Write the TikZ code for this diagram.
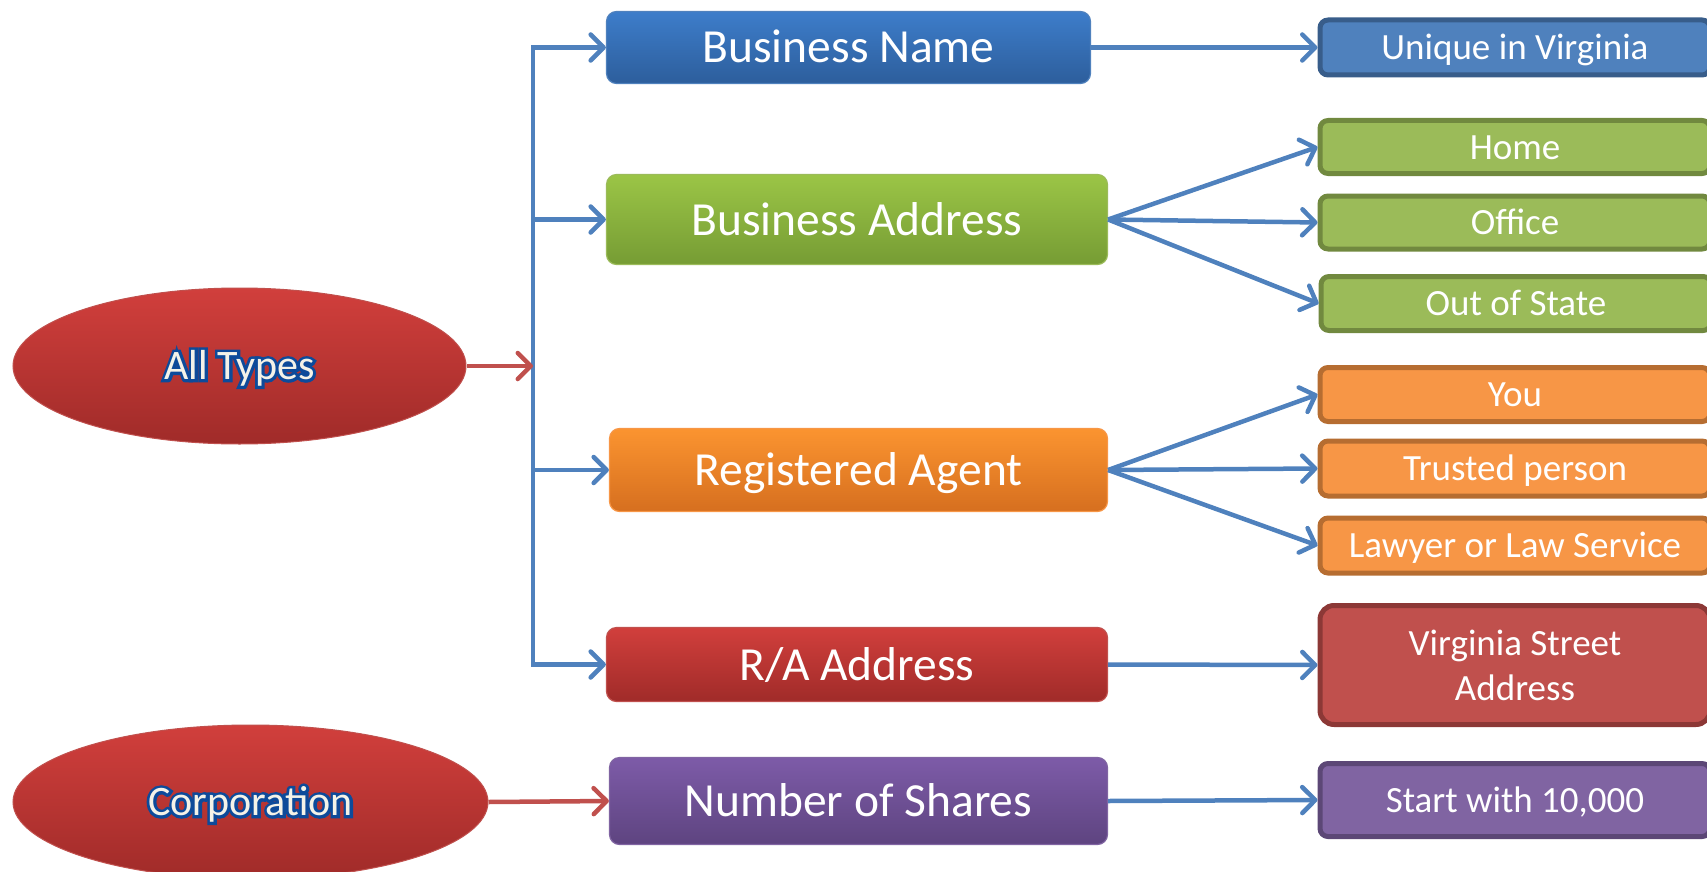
\documentclass[tikz,border=0pt]{standalone}
\usepackage{fontspec}
\setmainfont{Carlito}
\newfontfamily\fatfont[FakeBold=14]{Carlito}
\usetikzlibrary{arrows.meta,shapes.geometric}
\definecolor{arrblue}{HTML}{4F81BD}
\definecolor{arrred}{HTML}{C0504D}
\definecolor{outl}{HTML}{0D4A9A}
\definecolor{ivory}{HTML}{F4F2E8}
\definecolor{blueT}{HTML}{3D7DCA}\definecolor{blueB}{HTML}{2D5E9C}\definecolor{blueD}{HTML}{4F81BD}
\definecolor{greenT}{HTML}{9BC546}\definecolor{greenB}{HTML}{769C34}\definecolor{greenD}{HTML}{9BBB59}
\definecolor{orangeT}{HTML}{FB9430}\definecolor{orangeB}{HTML}{D66F1F}\definecolor{orangeD}{HTML}{F79646}
\definecolor{redT}{HTML}{D13F3C}\definecolor{redB}{HTML}{A02B29}\definecolor{redD}{HTML}{C0504D}
\definecolor{purpT}{HTML}{7D5BA8}\definecolor{purpB}{HTML}{5E4480}\definecolor{purpD}{HTML}{8064A2}
\definecolor{blueF}{HTML}{4F81BD}\definecolor{blueE}{HTML}{385D8A}
\definecolor{greenF}{HTML}{9BBB59}\definecolor{greenE}{HTML}{71893F}
\definecolor{orangeF}{HTML}{F79646}\definecolor{orangeE}{HTML}{B66D31}
\definecolor{redF}{HTML}{C0504D}\definecolor{redE}{HTML}{8C3836}
\definecolor{purpF}{HTML}{8064A2}\definecolor{purpE}{HTML}{5C4776}
\newcommand\outlinedtext[1]{\rlap{\fatfont\color{outl}#1}\color{ivory}#1}
\begin{document}
\begin{tikzpicture}[x=1pt,y=-1pt,
  lbox/.style={rectangle, rounded corners=10pt, line width=1.2pt, text=white, inner sep=0pt,
    font=\fontsize{47.5}{57}\selectfont, text height=38pt, text depth=7pt},
  rbox/.style={rectangle, rounded corners=8pt, line width=5pt, text=white, inner sep=0pt,
    minimum width=390pt, align=center, font=\fontsize{37}{45}\selectfont},
  rtxt/.style={text height=30pt, text depth=6pt},
  oval/.style={ellipse, inner sep=0pt, draw=redD, line width=1pt, top color=redT, bottom color=redB,
    font=\fontsize{42}{50}\selectfont, text height=33pt, text depth=6pt},
  conn/.style={draw=arrblue, line width=4.5pt, line join=miter,
    -{Straight Barb[length=13pt,width=26pt,line cap=round,line join=round]}},
  redconn/.style={conn, draw=arrred}
]
\useasboundingbox (0,0) rectangle (1707,872);

% ellipses
\node[oval, minimum width=453pt, minimum height=156pt] (alltypes) at (239.5,366) {\outlinedtext{All Types}};
\node[oval, minimum width=475pt, minimum height=154pt] (corp) at (250.5,802) {\outlinedtext{Corporation}};

% middle boxes
\node[lbox, draw=blueD, top color=blueT, bottom color=blueB, minimum width=484pt, minimum height=72pt] (bname) at (848.5,47.5) {Business Name};
\node[lbox, draw=greenD, top color=greenT, bottom color=greenB, minimum width=501pt, minimum height=90pt] (baddr) at (857,219.5) {Business Address};
\node[lbox, draw=orangeD, top color=orangeT, bottom color=orangeB, minimum width=498pt, minimum height=83pt] (ragent) at (858.5,470) {Registered Agent};
\node[lbox, draw=redD, top color=redT, bottom color=redB, minimum width=501pt, minimum height=74pt] (raaddr) at (857,664.5) {R/A Address};
\node[lbox, draw=purpD, top color=purpT, bottom color=purpB, minimum width=498pt, minimum height=87pt] (shares) at (858.5,801) {Number of Shares};

% right boxes
\node[rbox, rtxt, draw=blueE, fill=blueF, minimum height=55pt] (unique) at (1515,47.5) {Unique in Virginia};
\node[rbox, rtxt, draw=greenE, fill=greenF, minimum height=53pt] (home) at (1515,147) {Home};
\node[rbox, rtxt, draw=greenE, fill=greenF, minimum height=53pt] (office) at (1515,222.5) {Office};
\node[rbox, rtxt, draw=greenE, fill=greenF, minimum height=54pt] (outstate) at (1516,303.5) {Out of State};
\node[rbox, rtxt, draw=orangeE, fill=orangeF, minimum height=54pt] (you) at (1515,394.5) {You};
\node[rbox, rtxt, draw=orangeE, fill=orangeF, minimum height=55pt] (trusted) at (1515,468.5) {Trusted person};
\node[rbox, rtxt, draw=orangeE, fill=orangeF, minimum height=55pt] (lawyer) at (1515,545.5) {Lawyer or Law Service};
\node[rbox, draw=redE, fill=redF, minimum height=119pt, rounded corners=14pt] (virginia) at (1515,665) {Virginia Street\\Address};
\node[rbox, rtxt, draw=purpE, fill=purpF, minimum height=73pt] (start) at (1515,800) {Start with 10,000};

% bus
\coordinate (bt) at (533,47.5);
\coordinate (bb) at (533,664.5);
\draw[conn] (bb) -- (bt) -- (bname.west);
\draw[conn] (bt) -- (bb) -- (raaddr.west);
\draw[conn] (bt |- baddr.west) -- (baddr.west);
\draw[conn] (bt |- ragent.west) -- (ragent.west);
\draw[redconn] (alltypes.east) -- (alltypes.east -| bt);
\draw[redconn] (corp.east) -- (shares.west);

% right connectors
\draw[conn] (bname.east) -- (unique.west);
\draw[conn] (baddr.east) -- (home.west);
\draw[conn] (baddr.east) -- (office.west);
\draw[conn] (baddr.east) -- (outstate.west);
\draw[conn] (ragent.east) -- (you.west);
\draw[conn] (ragent.east) -- (trusted.west);
\draw[conn] (ragent.east) -- (lawyer.west);
\draw[conn] (raaddr.east) -- (virginia.west);
\draw[conn] (shares.east) -- (start.west);
\end{tikzpicture}
\end{document}
